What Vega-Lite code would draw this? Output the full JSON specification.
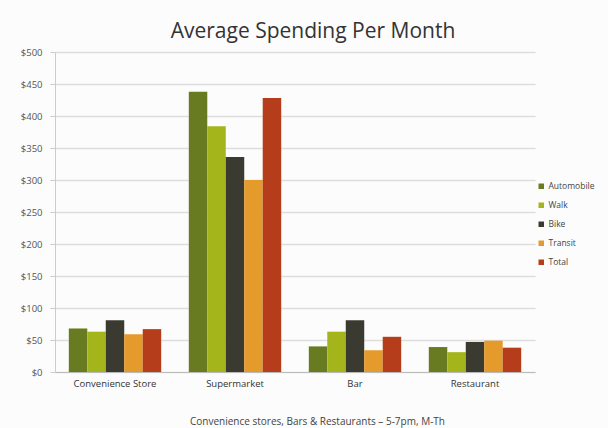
{
  "$schema": "https://vega.github.io/schema/vega-lite/v6.json",
  "autosize": "none",
  "width": 480,
  "height": 320,
  "padding": {"left": 55, "top": 52, "right": 73, "bottom": 56},
  "background": "#fcfcfc",
  "config": {
    "font": "Open Sans",
    "view": {"stroke": null}
  },
  "title": {
    "text": "Average Spending Per Month",
    "fontSize": 21,
    "fontWeight": "normal",
    "color": "#333333",
    "font": "Open Sans",
    "offset": 5,
    "dx": 18
  },
  "data": {
    "values": [
      {"place": "Convenience Store", "mode": "Automobile", "spend": 68},
      {"place": "Convenience Store", "mode": "Walk", "spend": 63},
      {"place": "Convenience Store", "mode": "Bike", "spend": 81},
      {"place": "Convenience Store", "mode": "Transit", "spend": 59},
      {"place": "Convenience Store", "mode": "Total", "spend": 67},
      {"place": "Supermarket", "mode": "Automobile", "spend": 438},
      {"place": "Supermarket", "mode": "Walk", "spend": 384},
      {"place": "Supermarket", "mode": "Bike", "spend": 336},
      {"place": "Supermarket", "mode": "Transit", "spend": 300},
      {"place": "Supermarket", "mode": "Total", "spend": 428},
      {"place": "Bar", "mode": "Automobile", "spend": 40},
      {"place": "Bar", "mode": "Walk", "spend": 63},
      {"place": "Bar", "mode": "Bike", "spend": 81},
      {"place": "Bar", "mode": "Transit", "spend": 34},
      {"place": "Bar", "mode": "Total", "spend": 55},
      {"place": "Restaurant", "mode": "Automobile", "spend": 39},
      {"place": "Restaurant", "mode": "Walk", "spend": 31},
      {"place": "Restaurant", "mode": "Bike", "spend": 47},
      {"place": "Restaurant", "mode": "Transit", "spend": 49},
      {"place": "Restaurant", "mode": "Total", "spend": 38}
    ]
  },
  "mark": {"type": "bar"},
  "encoding": {
    "x": {
      "field": "place",
      "type": "nominal",
      "sort": ["Convenience Store", "Supermarket", "Bar", "Restaurant"],
      "scale": {"paddingInner": 0.23, "paddingOuter": 0.115},
      "axis": {
        "title": "Convenience stores, Bars & Restaurants – 5-7pm, M-Th",
        "titleFontSize": 10,
        "titleFontWeight": "normal",
        "titleColor": "#444444",
        "titlePadding": 29,
        "titleX": 262,
        "labelAngle": 0,
        "labelFontSize": 9.5,
        "labelColor": "#333333",
        "labelPadding": 6,
        "ticks": false,
        "domainColor": "#bbbbbb"
      }
    },
    "xOffset": {
      "field": "mode",
      "type": "nominal",
      "sort": ["Automobile", "Walk", "Bike", "Transit", "Total"],
      "scale": {"paddingInner": 0}
    },
    "y": {
      "field": "spend",
      "type": "quantitative",
      "scale": {"domain": [0, 500]},
      "axis": {
        "title": null,
        "values": [0, 50, 100, 150, 200, 250, 300, 350, 400, 450, 500],
        "labelExpr": "'$' + datum.value",
        "labelFontSize": 9.5,
        "labelColor": "#555555",
        "labelPadding": 8,
        "gridColor": "#dddddd",
        "gridWidth": 1.5,
        "tickColor": "#cccccc",
        "tickSize": 5,
        "domainColor": "#cccccc"
      }
    },
    "color": {
      "field": "mode",
      "type": "nominal",
      "sort": ["Automobile", "Walk", "Bike", "Transit", "Total"],
      "scale": {
        "domain": ["Automobile", "Walk", "Bike", "Transit", "Total"],
        "range": ["#687b20", "#a3b51b", "#3a3a30", "#e59a2c", "#b53d1c"]
      },
      "legend": {
        "title": null,
        "orient": "none",
        "legendX": 482,
        "legendY": 130,
        "symbolType": "square",
        "symbolSize": 30,
        "symbolStrokeWidth": 0,
        "labelFontSize": 8.5,
        "labelColor": "#444444",
        "rowPadding": 10,
        "labelOffset": 3
      }
    }
  }
}
